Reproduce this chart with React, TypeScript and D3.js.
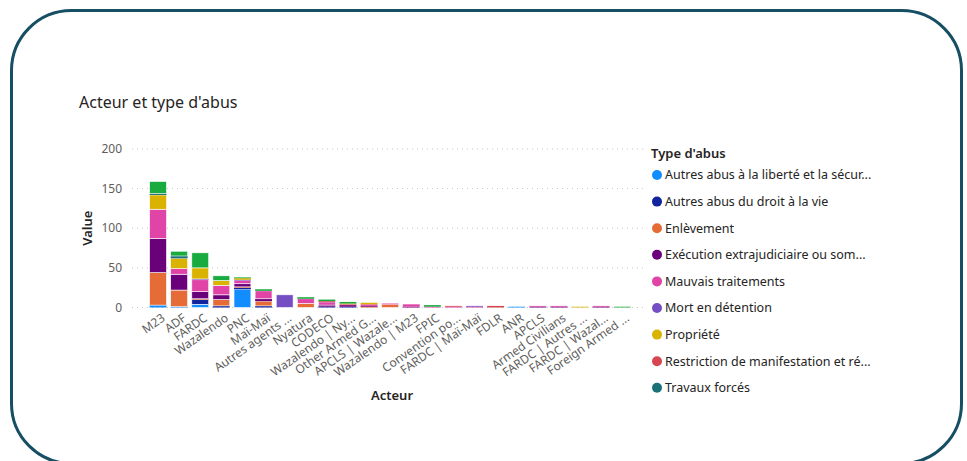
import React, { useMemo } from 'react'
import * as d3 from 'd3'

const actors = [
    'M23', 'ADF', 'FARDC', 'Wazalendo', 'PNC', 'Maï-Maï', 'Autres agents ...', 'Nyatura', 'CODECO',
    'Wazalendo | Ny...', 'Other Armed G...', 'APCLS | Wazale...', 'Wazalendo | M23', 'FPIC',
    'Convention po...', 'FARDC | Maï-Maï', 'FDLR', 'ANR', 'APCLS', 'Armed Civilians',
    'FARDC | Autres ...', 'FARDC | Wazal...', 'Foreign Armed ...'
]

const abuseTypes = [
    'Autres abus à la liberté et la sécur...',
    'Autres abus du droit à la vie',
    'Enlèvement',
    'Exécution extrajudiciaire ou som...',
    'Mauvais traitements',
    'Mort en détention',
    'Propriété',
    'Restriction de manifestation et ré...',
    'Travaux forcés',
    'Violences sexuelles'
]

const typeColors = ['#118DFF', '#12239E', '#E66C37', '#6B007B', '#E044A7', '#744EC2', '#D9B300', '#D64550', '#197278', '#1AAB40']

// one array per abuse type, values in the order of `actors`
const liberte = [3, 1, 4, 0, 23, 0, 0, 0, 0, 0, 0, 0, 0, 0, 0, 0, 0, 1, 0, 0, 0, 0, 0]
const droitVie = [0, 0, 6, 2, 2, 2, 0, 0, 1, 1, 0, 0, 0, 0, 0, 0, 0, 0, 0, 0, 0, 0, 0]
const enlevement = [41, 21, 1, 8, 1, 6, 0, 5, 0, 0, 1, 4, 0, 0, 0, 0, 0, 0, 0, 0, 0, 0, 0]
const execution = [43, 20, 9, 6, 4, 3, 0, 0, 2, 2, 1, 0, 1, 0, 0, 0, 0, 0, 1, 1, 0, 1, 0]
const mauvais = [37, 7, 15, 12, 4, 10, 0, 6, 4, 1, 2, 1, 3, 1, 1, 1, 0, 0, 1, 1, 0, 1, 0]
const mortDetention = [0, 0, 1, 0, 1, 0, 16, 0, 0, 0, 0, 0, 0, 0, 0, 1, 0, 0, 0, 0, 0, 0, 0]
const propriete = [18, 13, 14, 6, 2, 0, 0, 0, 0, 1, 2, 0, 0, 0, 0, 0, 0, 0, 0, 0, 1, 0, 0]
const restriction = [0, 0, 0, 0, 0, 0, 0, 0, 1, 0, 0, 0, 0, 0, 1, 0, 2, 0, 0, 0, 0, 0, 0]
const travaux = [2, 3, 0, 0, 0, 0, 0, 0, 0, 0, 0, 0, 0, 0, 0, 0, 0, 0, 0, 0, 0, 0, 0]
const violences = [15, 6, 19, 6, 1, 2, 0, 2, 2, 2, 0, 0, 0, 2, 0, 0, 0, 0, 0, 0, 0, 0, 1]

const seriesValues = [liberte, droitVie, enlevement, execution, mauvais, mortDetention, propriete, restriction, travaux, violences]

const yTicks = [0, 50, 100, 150, 200]

const FONT = '"Segoe UI", "Noto Sans", sans-serif'

export default function App() {
    const width = 967
    const height = 461

    const rows = useMemo(() => actors.map((a, i) => {
        const row: Record<string, number | string> = { actor: a }
        abuseTypes.forEach((t, j) => { row[t] = seriesValues[j][i] })
        return row
    }), [])

    const stacked = useMemo(() => d3.stack<any>().keys(abuseTypes)(rows), [rows])

    const x = d3.scaleBand().domain(actors).range([147.5, 632.8]).paddingInner(0.2).paddingOuter(0.1)
    const y = d3.scaleLinear().domain([0, 200]).range([307.5, 149])

    return (
        <svg width={width} height={height} style={{ position: 'absolute', left: 0, top: 0, background: '#fff' }} fontFamily={FONT}>
            <rect x={11.5} y={10.5} width={950} height={453} rx={60} ry={60} fill="#fff" stroke="#164E63" strokeWidth={3} />

            <text x={79} y={108} fontSize={16} fill="#252423">Acteur et type d'abus</text>

            {yTicks.map(t => (
                <g key={t}>
                    <line x1={132} x2={645} y1={y(t)} y2={y(t)} stroke="#C8C6C4" strokeWidth={1} strokeDasharray="1 4" />
                    <text x={122} y={y(t)} dy="0.35em" textAnchor="end" fontSize={12} fill="#605E5C">{t}</text>
                </g>
            ))}

            <text transform={`translate(92 ${y(100)}) rotate(-90)`} textAnchor="middle" fontSize={13} fontWeight={600} fill="#252423">Value</text>

            {stacked.map((layer, j) => (
                <g key={layer.key} fill={typeColors[j]}>
                    {layer.map((d, i) => {
                        const h = y(d[0]) - y(d[1])
                        if (h <= 0) return null
                        return (
                            <rect key={i} x={x(actors[i])} y={y(d[1])} width={x.bandwidth()} height={h}
                                stroke="#fff" strokeWidth={h > 3 ? 0.6 : 0} />
                        )
                    })}
                </g>
            ))}

            {actors.map(a => (
                <text key={a} transform={`translate(${(x(a) ?? 0) + x.bandwidth() / 2 + 3} ${313}) rotate(-35)`}
                    textAnchor="end" dy="0.7em" fontSize={12} fill="#605E5C">{a}</text>
            ))}

            <text x={392} y={400} textAnchor="middle" fontSize={13} fontWeight={600} fill="#252423">Acteur</text>

            <text x={651} y={158} fontSize={13} fontWeight={600} fill="#252423">Type d'abus</text>
            {abuseTypes.slice(0, 9).map((t, j) => (
                <g key={t} transform={`translate(657 ${175 + j * 26.6})`}>
                    <circle r={5} fill={typeColors[j]} />
                    <text x={8} dy="0.35em" fontSize={12.5} fill="#252423">{t}</text>
                </g>
            ))}
        </svg>
    )
}
